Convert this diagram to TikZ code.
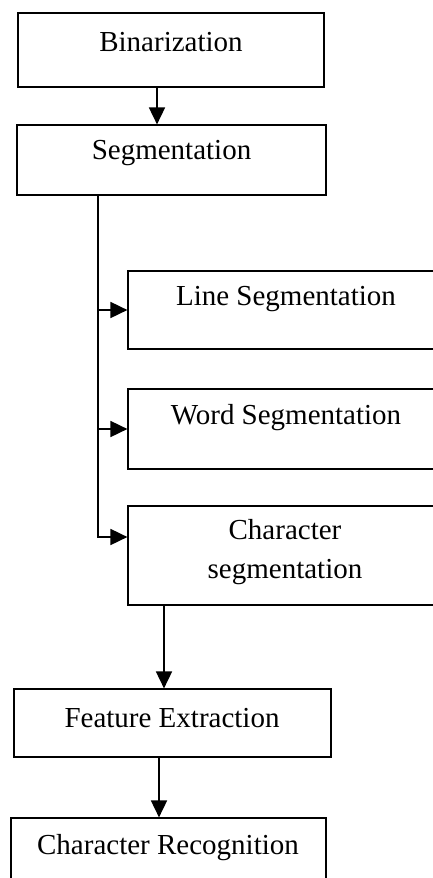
\documentclass[tikz,border=0pt]{standalone}
\usepackage{fontspec}
\setmainfont{Liberation Serif}
\usetikzlibrary{arrows.meta}
\begin{document}
\begin{tikzpicture}[x=1pt, y=-1pt,
  stage/.style={draw, line width=1.2pt, rectangle, inner sep=0pt},
  caption/.style={font=\fontsize{29}{39}\selectfont, align=center, inner sep=0pt},
  arr/.style={line width=1.8pt, -{Triangle[length=17pt,width=16pt]}}]
  \useasboundingbox (0,0) rectangle (433,878);

  % stage boxes
  \node[stage, minimum width=306pt, minimum height=74pt] (bin)  at (171,50) {};
  \node[stage, minimum width=309pt, minimum height=70pt] (seg)  at (171.5,160) {};
  \node[stage, minimum width=316pt, minimum height=78pt] (line) at (286,310) {};
  \node[stage, minimum width=316pt, minimum height=80pt] (word) at (286,429) {};
  \node[stage, minimum width=316pt, minimum height=99pt] (char) at (286,555.5) {};
  \node[stage, minimum width=317pt, minimum height=68pt] (feat) at (172.5,723) {};
  \node[stage, minimum width=315pt, minimum height=80pt] (rec)  at (168.5,858) {};

  % captions
  \node[caption] (tbin)  at (171,42)  {Binarization};
  \node[caption] (tseg)  at (171.5,153) {Segmentation};
  \node[caption] (tline) at (286,299) {Line Segmentation};
  \node[caption] (tword) at (286,418) {Word Segmentation};
  \node[caption] (tchar) at (285,552) {Character\\segmentation};
  \node[caption] (tfeat) at (172,718) {Feature Extraction};
  \node[caption] (trec)  at (168,848) {Character Recognition};

  % connectors
  \draw[arr] ([xshift=-14pt]bin.south) -- ([xshift=-14.5pt]seg.north);
  \coordinate (trunk) at ([xshift=-73.5pt]seg.south);
  \draw[arr] (trunk) |- ([yshift=18.5pt]char.west);
  \draw[arr] (trunk |- line.west) -- (line.west);
  \draw[arr] (trunk |- word.west) -- (word.west);
  \draw[arr] ([xshift=-122pt]char.south) -- ([xshift=-8.5pt]feat.north);
  \draw[arr] ([xshift=-13.5pt]feat.south) -- ([xshift=-9.5pt]rec.north);
\end{tikzpicture}
\end{document}
